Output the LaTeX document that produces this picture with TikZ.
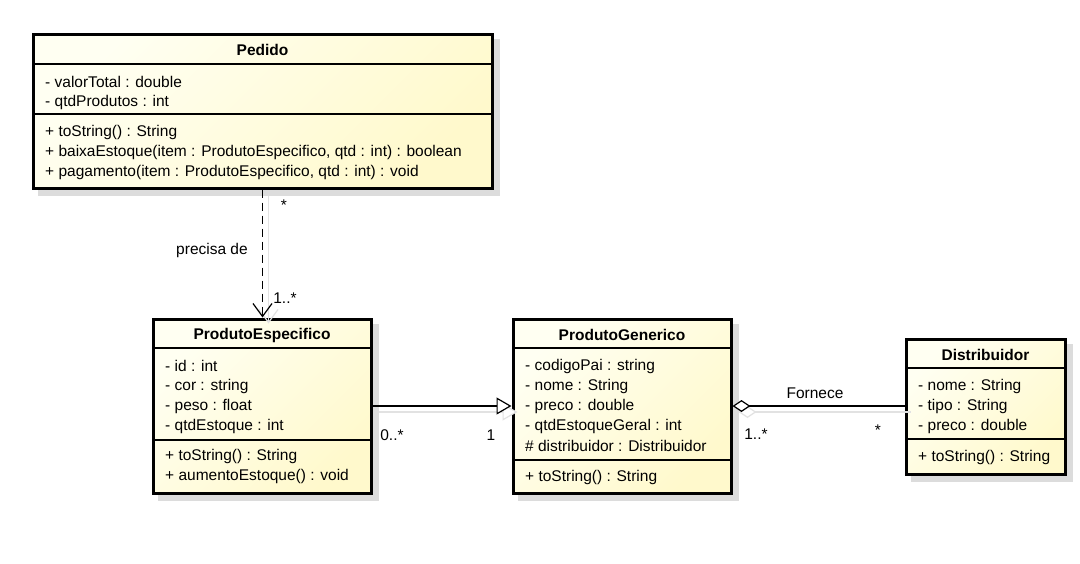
\documentclass[tikz,border=0pt]{standalone}
\usepackage{fontspec}
\setmainfont{Liberation Sans}
\usetikzlibrary{arrows.meta,backgrounds}

\definecolor{boxlight}{HTML}{FFFFF2}
\definecolor{boxdark}{HTML}{FFF9CC}
\definecolor{boxshade}{HTML}{DCDCDC}
\definecolor{lineshade}{HTML}{E2E2E2}

\begin{document}
\begin{tikzpicture}[x=1pt,y=-1pt,
  every node/.style={inner sep=0pt, font=\fontsize{15.5}{18}\selectfont},
  classbox/.style={rectangle, draw=black, line width=3pt,
    top color=boxlight, bottom color=boxdark, shading angle=45},
  title/.style={font=\fontsize{15.5}{18}\selectfont\bfseries},
  member/.style={anchor=west},
  divider/.style={line width=1.2pt, black},
  conn/.style={line width=1.2pt, black},
  connshade/.style={line width=1.2pt, lineshade, transform canvas={xshift=6pt, yshift=-6pt}},
  usetip/.style={-{Straight Barb[length=13pt,width=19pt]}},
  gentip/.style={-{Triangle[length=15pt,width=17pt,fill=white]}},
  aggtip/.style={{Diamond[length=18pt,width=12pt,fill=white]}-},
  label/.style={}]

\useasboundingbox (0,0) rectangle (1080,563);

% ---------- Pedido ----------
\node[classbox, minimum width=459pt, minimum height=154pt] (pedido) at (262.5,111) {};
\node[title] (pedidoT) at (262.5,50) {Pedido};
\draw[divider] (33,64) -- (492,64);
\draw[divider] (33,114) -- (492,114);
\node[member] (pedA1) at (45,82) {- valorTotal : double};
\node[member] (pedA2) at (45,102) {- qtdProdutos : int};
\node[member] (pedM1) at (45,132) {+ toString() : String};
\node[member] (pedM2) at (45,152) {+ baixaEstoque(item : ProdutoEspecifico, qtd : int) : boolean};
\node[member] (pedM3) at (45,172) {+ pagamento(item : ProdutoEspecifico, qtd : int) : void};

% ---------- ProdutoEspecifico ----------
\node[classbox, minimum width=218pt, minimum height=174pt] (pe) at (262,406) {};
\node[title] (peT) at (262,335) {ProdutoEspecifico};
\draw[divider] (153,348) -- (371,348);
\draw[divider] (153,440) -- (371,440);
\node[member] (peA1) at (165,366) {- id : int};
\node[member] (peA2) at (165,386) {- cor : string};
\node[member] (peA3) at (165,406) {- peso : float};
\node[member] (peA4) at (165,426) {- qtdEstoque : int};
\node[member] (peM1) at (165,456) {+ toString() : String};
\node[member] (peM2) at (165,476) {+ aumentoEstoque() : void};

% ---------- ProdutoGenerico ----------
\node[classbox, minimum width=218pt, minimum height=174pt] (pg) at (622,406) {};
\node[title] (pgT) at (622,335) {ProdutoGenerico};
\draw[divider] (513,348) -- (731,348);
\draw[divider] (513,460) -- (731,460);
\node[member] (pgA1) at (525,366) {- codigoPai : string};
\node[member] (pgA2) at (525,386) {- nome : String};
\node[member] (pgA3) at (525,406) {- preco : double};
\node[member] (pgA4) at (525,426) {- qtdEstoqueGeral : int};
\node[member] (pgA5) at (525,446) {\# distribuidor : Distribuidor};
\node[member] (pgM1) at (525,477) {+ toString() : String};

% ---------- Distribuidor ----------
\node[classbox, minimum width=159pt, minimum height=135pt] (dist) at (985.5,406.5) {};
\node[title] (distT) at (985.5,355) {Distribuidor};
\draw[divider] (906,368) -- (1065,368);
\draw[divider] (906,439) -- (1065,439);
\node[member] (distA1) at (918,386) {- nome : String};
\node[member] (distA2) at (918,406) {- tipo : String};
\node[member] (distA3) at (918,426) {- preco : double};
\node[member] (distM1) at (918,457) {+ toString() : String};

% ---------- page and box shadows, behind everything ----------
\begin{scope}[on background layer]
  \fill[white] (0,0) rectangle (1080,563);
  \foreach \b in {pedido,pe,pg,dist}
    \fill[boxshade] ([shift={(6,6)}]\b.north west) rectangle ([shift={(6,6)}]\b.south east);
\end{scope}

% ---------- connector shadows ----------
\draw[connshade, usetip] (pedido.south) -- (pedido.south |- pe.north);
\draw[connshade, gentip] (pe.east) -- (pg.west);
\draw[connshade, aggtip] (pg.east) -- (pg.east -| dist.west);

% ---------- connectors ----------
\draw[conn, usetip, dash pattern=on 8pt off 5pt] (pedido.south) -- (pedido.south |- pe.north);
\draw[conn, gentip] (pe.east) -- (pg.west);
\draw[conn, aggtip] (pg.east) -- (pg.east -| dist.west);

% ---------- connector labels ----------
\node[label] (useName) at (212,250) {precisa de};
\node[label] (useSrc) at (284,205) {*};
\node[label] (useDst) at (285,298) {1..*};
\node[label] (genSrc) at (392,435) {0..*};
\node[label] (genDst) at (491,435) {1};
\node[label] (aggName) at (815,393) {Fornece};
\node[label] (aggSrc) at (756,434) {1..*};
\node[label] (aggDst) at (878,430) {*};

\end{tikzpicture}
\end{document}
